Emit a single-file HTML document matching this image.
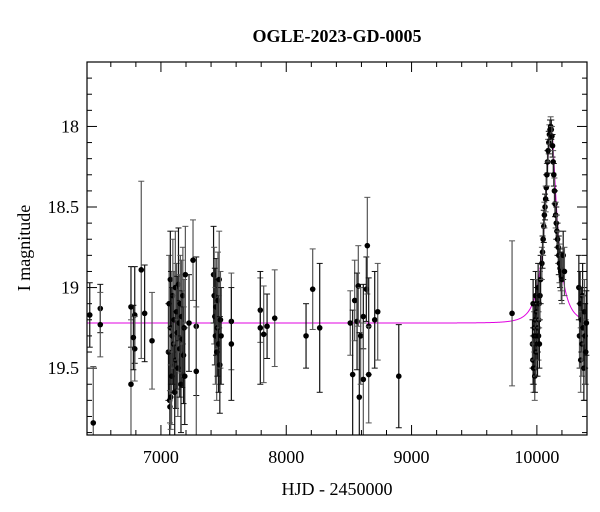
<!DOCTYPE html>
<html><head><meta charset="utf-8"><style>
html,body{margin:0;padding:0;background:#fff;}
svg{display:block;font-family:"Liberation Serif",serif;}
</style></head><body>
<svg id="chart" width="600" height="512" xmlns="http://www.w3.org/2000/svg">
<text x="337" y="42" text-anchor="middle" font-size="18" font-weight="600">OGLE-2023-GD-0005</text>
<text x="337" y="495" text-anchor="middle" font-size="18">HJD - 2450000</text>
<text x="0" y="0" transform="translate(30,248) rotate(-90)" text-anchor="middle" font-size="18">I magnitude</text>
<g id="ticks"></g>
<g id="model"></g>
<g id="points"></g>
<rect x="87" y="62" width="500" height="373" fill="none" stroke="#000" stroke-width="1.2"/>
</svg>
<script>
const xTicks = [7000, 8000, 9000, 10000];
const yTicks = [18, 18.5, 19, 19.5];
const hjd = [6432,6460,6516,6516,6761,6761,6791,6791,6780,6843,6870,6929,
7060,7065,7070,7072,7075,7078,7080,7085,7090,7095,7100,7105,7110,7115,7120,7125,7130,7135,7140,7145,7150,7155,7160,7165,7170,7175,7180,7185,7190,7195,
7224,7256,7282,7282,
7420,7425,7430,7435,7440,7445,7450,7455,7460,7465,7470,7475,7480,
7562,7562,7793,7793,7820,7847,7908,8158,8211,8267,
8511,8530,8546,8565,8575,8583,8594,8615,8615,8639,8647,8658,8658,8706,8730,8898,
9802,
9965,9968,9970,9973,9975,9978,9980,9983,9985,9988,9990,9993,9995,9998,10000,10003,10005,10008,10010,10013,10015,10018,10020,10025,10030,
10040,10045,10050,10055,10060,10065,10070,10075,10080,10085,10090,10095,10100,10105,10110,10115,10120,10125,10130,10135,10140,10145,10150,10155,10160,10165,10170,10175,10180,10185,10190,10195,10200,10210,10220,
10335,10340,10345,10350,10355,10360,10365,10370,10375,10380,10385,10390,10395];
const mag = [19.17,19.84,19.13,19.23,19.12,19.60,19.17,19.38,19.31,18.89,19.16,19.33,
19.40,19.10,19.70,19.74,18.95,19.68,19.25,19.55,19.30,19.05,19.35,19.20,19.65,19.00,19.45,19.15,19.28,19.50,18.98,19.22,19.38,19.10,19.60,19.18,19.32,19.05,19.42,19.25,19.55,18.92,
19.22,18.83,19.24,19.52,
18.92,19.05,19.18,19.30,19.12,19.40,19.25,19.08,19.35,18.95,19.48,19.20,19.30,
19.21,19.35,19.14,19.25,19.29,19.24,19.19,19.30,19.01,19.25,
19.22,19.54,19.08,19.21,18.99,19.68,19.30,19.18,19.57,19.01,18.74,19.24,19.54,19.20,19.15,19.55,
19.16,
19.35,19.45,19.10,19.50,19.45,19.30,19.25,19.55,19.50,19.20,19.05,19.40,19.30,19.10,19.15,19.35,19.40,19.25,19.00,19.30,19.20,19.10,19.35,19.05,18.95,
18.85,18.78,18.70,18.62,18.55,18.50,18.45,18.38,18.30,18.22,18.15,18.10,18.05,18.02,18.00,18.02,18.06,18.12,18.22,18.30,18.40,18.48,18.55,18.60,18.65,18.70,18.75,18.80,18.85,18.88,18.90,18.93,18.95,18.80,18.90,
19.00,19.30,19.10,19.45,19.20,19.35,19.05,19.25,19.50,19.15,19.30,19.40,19.22];
const magErr = [0.2,0.35,0.15,0.2,0.25,0.4,0.3,0.2,0.2,0.55,0.3,0.3,
0.3,0.3,0.3,0.1,0.3,0.2,0.35,0.3,0.3,0.35,0.3,0.3,0.3,0.35,0.3,0.3,0.35,0.3,0.35,0.3,0.3,0.3,0.3,0.35,0.3,0.3,0.3,0.3,0.3,0.3,
0.3,0.25,0.43,0.4,
0.3,0.3,0.3,0.3,0.3,0.3,0.3,0.3,0.3,0.3,0.3,0.3,0.3,
0.3,0.35,0.2,0.35,0.3,0.2,0.3,0.2,0.25,0.4,
0.2,0.4,0.25,0.3,0.25,0.4,0.3,0.2,0.35,0.2,0.3,0.3,0.3,0.3,0.3,0.32,
0.45,
0.15,0.15,0.15,0.15,0.15,0.15,0.15,0.15,0.15,0.15,0.15,0.15,0.15,0.15,0.15,0.15,0.15,0.15,0.15,0.15,0.15,0.15,0.15,0.15,0.15,
0.1,0.1,0.1,0.1,0.08,0.08,0.08,0.08,0.07,0.07,0.07,0.07,0.06,0.06,0.06,0.06,0.06,0.07,0.07,0.07,0.08,0.08,0.08,0.1,0.1,0.1,0.1,0.12,0.12,0.12,0.12,0.15,0.15,0.15,0.15,
0.2,0.2,0.2,0.2,0.2,0.2,0.2,0.2,0.2,0.2,0.2,0.2,0.2];
const modelParams = [10112, 95, 0.34, 19.22]; // t0, tE, u0, baseline

const NS = "http://www.w3.org/2000/svg";
const L = 87, R = 587, T = 62, B = 435;
const X0 = 6410, X1 = 10400, Y0 = 17.6, Y1 = 19.915;
const xs = t => L + (t - X0) / (X1 - X0) * (R - L);
const ys = m => T + (m - Y0) / (Y1 - Y0) * (B - T);
function mk(tag, attrs, parent) {
  const e = document.createElementNS(NS, tag);
  for (const k in attrs) e.setAttribute(k, attrs[k]);
  parent.appendChild(e);
  return e;
}
const tg = document.getElementById('ticks');
for (let t = 6600; t <= X1; t += 200) {
  const major = t % 1000 === 0;
  const len = major ? 10 : 5;
  const x = xs(t);
  const a = mk('line', {x1:x, x2:x, y1:B, y2:B-len, stroke:'#000'}, tg);
  
  
  const b = mk('line', {x1:x, x2:x, y1:T, y2:T+len, stroke:'#000'}, tg);
  
  
}
xTicks.forEach(t => {
  const e = mk('text', {x:xs(t), y:463, 'text-anchor':'middle', 'font-size':18}, tg);
  e.textContent = t;
  
  
});
for (let i = 18; i <= 199; i++) {
  const m = i / 10;
  if (m < Y0 || m > Y1) continue;
  const major = i % 5 === 0;
  const len = major ? 10 : 5;
  const y = ys(m);
  const a = mk('line', {x1:L, x2:L+len, y1:y, y2:y, stroke:'#000'}, tg);
  
  
  const b = mk('line', {x1:R, x2:R-len, y1:y, y2:y, stroke:'#000'}, tg);
  
  
}
yTicks.forEach(m => {
  const e = mk('text', {x:79, y:ys(m)+6, 'text-anchor':'end', 'font-size':18}, tg);
  e.textContent = m;
  
  
});
const [t0, tE, u0, base] = modelParams;
let d = '';
for (let t = X0; t <= X1; t += 2) {
  const tau = (t - t0) / tE;
  const u = Math.sqrt(u0*u0 + tau*tau);
  const A = (u*u + 2) / (u * Math.sqrt(u*u + 4));
  const m = base - 2.5 * Math.log10(A);
  d += (d ? 'L' : 'M') + xs(t).toFixed(2) + ',' + ys(m).toFixed(2);
}
const mp = mk('path', {d:d, fill:'none', stroke:'#e000e0', 'stroke-width':1}, document.getElementById('model'));


const pg = document.getElementById('points');
hjd.forEach((t, i) => {
  const x = xs(t), y = ys(mag[i]);
  const e1 = ys(mag[i] - magErr[i]), e2 = ys(mag[i] + magErr[i]);
  const g = mk('g', {}, pg);
  
  
  const c = i % 2 ? '#555' : '#111';
  mk('line', {x1:x, x2:x, y1:Math.max(T,e1), y2:Math.min(B,e2), stroke:c, 'stroke-width':1.2}, g);
  if (e1 > T) mk('line', {x1:x-3, x2:x+3, y1:e1, y2:e1, stroke:c}, g);
  if (e2 < B) mk('line', {x1:x-3, x2:x+3, y1:e2, y2:e2, stroke:c}, g);
  mk('circle', {cx:x, cy:y, r:2.8, fill:'#000'}, g);
});
</script>
</body></html>
